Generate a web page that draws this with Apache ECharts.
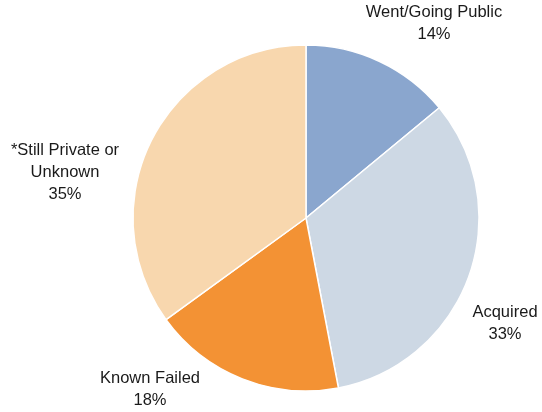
<!DOCTYPE html>
<html><head><meta charset="utf-8">
<script src="https://cdn.jsdelivr.net/npm/echarts@6/dist/echarts.min.js"></script>
<style>html,body{margin:0;padding:0;background:#fff}#c{width:542px;height:412px}</style>
</head><body><div id="c"></div>
<script>
const categories = ['Went/Going Public', 'Acquired', 'Known Failed', '*Still Private or\nUnknown'];
const values = [14, 33, 18, 35];
const colors = ['#8AA6CE', '#CDD8E4', '#F39234', '#F8D7AE'];
const labelPos = [[434, 23], [505, 323], [150, 389], [65, 172]];

const chart = echarts.init(document.getElementById('c'), null, {renderer: 'canvas'});
chart.setOption({
  animation: false,
  series: [{
    type: 'pie',
    center: [306, 218],
    radius: [0, 173],
    startAngle: 90,
    clockwise: true,
    data: categories.map((n, i) => ({name: n, value: values[i], itemStyle: {color: colors[i]}})),
    itemStyle: {borderColor: '#fff', borderWidth: 1.5},
    label: {
      show: true,
      position: 'outside',
      formatter: p => p.name + '\n' + p.value + '%',
      fontFamily: 'Liberation Sans, Arial, sans-serif',
      fontSize: 16.5,
      lineHeight: 22,
      color: '#1a1a1a',
      align: 'center',
      overflow: 'none',
      width: 220
    },
    labelLine: {show: false},
    labelLayout: p => ({x: labelPos[p.dataIndex][0], y: labelPos[p.dataIndex][1], align: 'center', verticalAlign: 'middle'}),
    emphasis: {disabled: true}
  }]
});
</script></body></html>
